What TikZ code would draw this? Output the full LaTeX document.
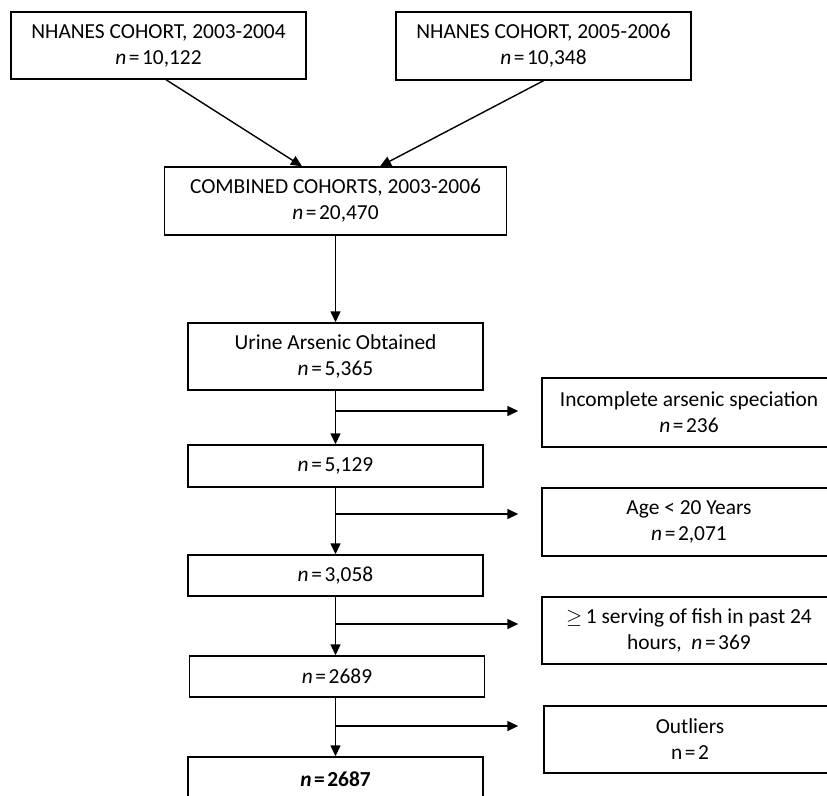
\documentclass[tikz,border=0pt]{standalone}
\usepackage{fontspec}
\setmainfont{Carlito}
\usetikzlibrary{arrows.meta,calc}
\newcommand{\nn}{\textit{n}\hspace{0.12em}=\hspace{0.12em}}
\begin{document}
\begin{tikzpicture}[x=1pt,y=-1pt,
  box/.style={draw,line width=1.4pt,rectangle,align=center,inner sep=0pt,
    font=\fontsize{21.4}{26}\selectfont},
  arr/.style={line width=1.4pt,-{Triangle[length=11pt,width=10pt]}},
  ln/.style={line width=1.4pt}]
\useasboundingbox (0,0) rectangle (827,795);
\clip (0,0) rectangle (827,795);
\node[box,minimum width=295pt,minimum height=67pt] (b1) at (158.5,45.5) {NHANES COHORT, 2003-2004\\\nn10,122};
\node[box,minimum width=295pt,minimum height=68pt] (b2) at (543.5,46) {NHANES COHORT, 2005-2006\\\nn10,348};
\node[box,minimum width=342pt,minimum height=68pt] (comb) at (335.5,201) {COMBINED COHORTS, 2003-2006\\\nn20,470};
\node[box,minimum width=295pt,minimum height=67pt] (urine) at (335.5,356.5) {Urine Arsenic Obtained\\\nn5,365};
\node[box,minimum width=295pt,minimum height=42pt] (n1) at (335.5,466) {\nn5,129};
\node[box,minimum width=295pt,minimum height=41pt] (n2) at (335.5,575.5) {\nn3,058};
\node[box,minimum width=295pt,minimum height=41pt] (n3) at (337,676.5) {\nn2689};
\node[box,minimum width=295pt,minimum height=44pt] (n4) at (335.5,779) {\textbf{\textit{n}\hspace{0.12em}=\hspace{0.12em}2687}};
\node[box,minimum width=294pt,minimum height=69pt] (inc) at (689,412.5) {Incomplete arsenic speciation\\\nn236};
\node[box,minimum width=294pt,minimum height=68pt] (age) at (689,522) {Age < 20 Years\\\nn2,071};
\node[box,minimum width=294pt,minimum height=67pt] (fish) at (689,630.5) {$\geq$\,1 serving of fish in past 24\\hours,\ \ \nn369};
\node[box,minimum width=292pt,minimum height=67pt] (out) at (690,739.5) {Outliers\\n\hspace{0.12em}=\hspace{0.12em}2};
% top arrows
\draw[arr] ([xshift=7.5pt]b1.south) -- ([xshift=-33.5pt]comb.north);
\draw[arr] (b2.south) -- ([xshift=44.5pt]comb.north);
\draw[arr] (comb.south) -- (urine.north);
\draw[arr] (urine.south) -- (n1.north);
\draw[arr] (n1.south) -- (n2.north);
\draw[arr] (n2.south) -- (n3.north -| n2.south);
\draw[arr] (n3.south -| n2.south) -- (n4.north);
% branches
\coordinate (j1) at (335.5,411);
\coordinate (j2) at (335.5,514);
\coordinate (j3) at (335.5,624);
\coordinate (j4) at (335.5,726);
\draw[arr] (j1) -- ([xshift=-23pt]j1 -| inc.west);
\draw[arr] (j2) -- ([xshift=-23pt]j2 -| age.west);
\draw[arr] (j3) -- ([xshift=-23pt]j3 -| fish.west);
\draw[arr] (j4) -- ([xshift=-25pt]j4 -| out.west);
\end{tikzpicture}
\end{document}
